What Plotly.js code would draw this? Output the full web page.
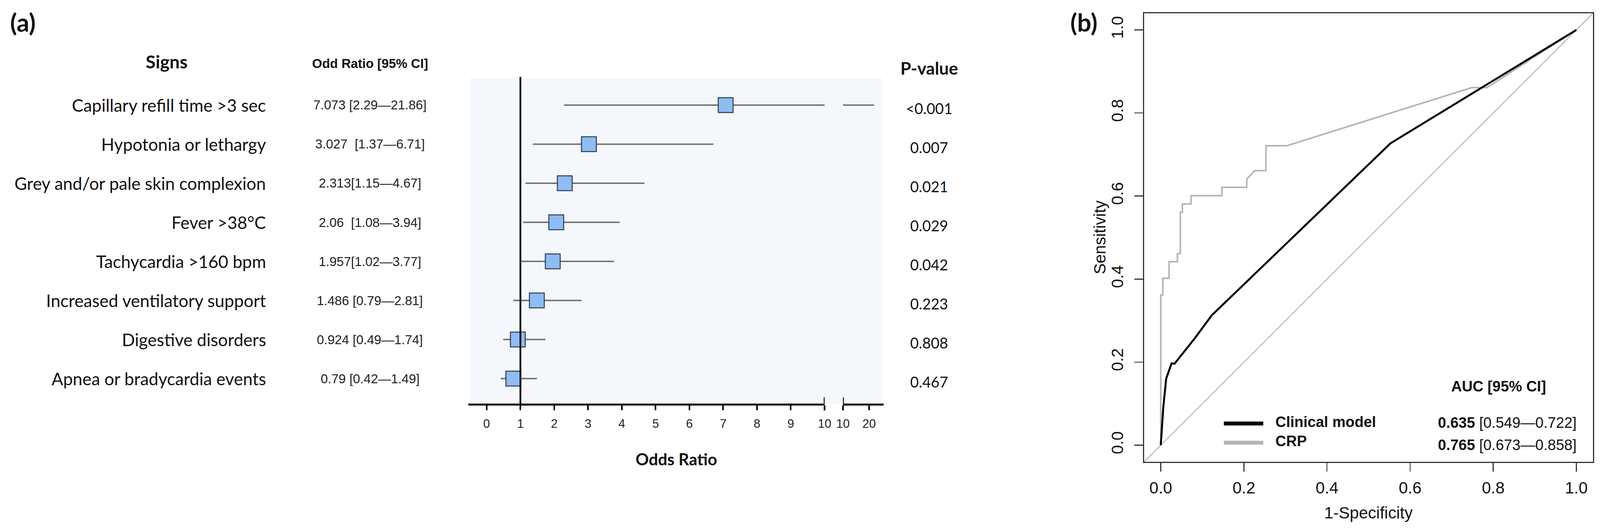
<!DOCTYPE html>
<html>
<head>
<meta charset="utf-8">
<script src="https://cdn.plot.ly/plotly-3.0.1.min.js"></script>
<style>html,body{margin:0;padding:0;background:#fff;} #chart{width:4102px;height:1354px;}</style>
</head>
<body>
<div id="chart"></div>
<script>
// ---------- Panel (a) data ----------
const signs = ["Capillary refill time >3 sec","Hypotonia or lethargy","Grey and/or pale skin complexion","Fever >38°C","Tachycardia >160 bpm","Increased ventilatory support","Digestive disorders","Apnea or bradycardia events"];
const oddsRatio = [7.073, 3.027, 2.313, 2.06, 1.957, 1.486, 0.924, 0.79];
const ciLow = [2.29, 1.37, 1.15, 1.08, 1.02, 0.79, 0.49, 0.42];
const ciHigh = [21.86, 6.71, 4.67, 3.94, 3.77, 2.81, 1.74, 1.49];
const orLabels = ["7.073 [2.29—21.86]","3.027&nbsp;&nbsp;[1.37—6.71]","2.313[1.15—4.67]","2.06&nbsp;&nbsp;[1.08—3.94]","1.957[1.02—3.77]","1.486 [0.79—2.81]","0.924 [0.49—1.74]","0.79 [0.42—1.49]"];
const pValues = ["<0.001","0.007","0.021","0.029","0.042","0.223","0.808","0.467"];
const axisTicks1 = [0,1,2,3,4,5,6,7,8,9,10];
const axisTicks2 = [10,20];
const breakAt = 10;

// ---------- Panel (b) data ----------
const clinFpr = [0, 0.006, 0.013, 0.026, 0.033, 0.08, 0.123, 0.553, 1];
const clinTpr = [0, 0.09, 0.16, 0.197, 0.196, 0.255, 0.313, 0.727, 1];
const crpFpr = [0, 0, 0.005, 0.005, 0.02, 0.02, 0.040, 0.040, 0.047, 0.047, 0.052, 0.052, 0.073, 0.073, 0.147, 0.147, 0.207, 0.207, 0.226, 0.253, 0.253, 0.303, 0.748, 0.785, 1];
const crpTpr = [0, 0.362, 0.362, 0.402, 0.402, 0.442, 0.442, 0.461, 0.461, 0.561, 0.561, 0.581, 0.581, 0.601, 0.601, 0.621, 0.621, 0.641, 0.661, 0.661, 0.721, 0.721, 0.861, 0.861, 1];
const rocTicks = [0, 0.2, 0.4, 0.6, 0.8, 1.0];
const aucRows = [
  {name: "Clinical model", auc: "0.635", ci: "[0.549—0.722]"},
  {name: "CRP", auc: "0.765", ci: "[0.673—0.858]"}
];

// ---------- helpers ----------
const W = 4102, H = 1354;
const px = v => v / W;
const py = v => (H - v) / H;
const rows = signs.map((s, i) => i);

const fSans = "Lato, 'Open Sans', sans-serif";
const fArial = "'Liberation Sans', Arial, sans-serif";

// CI segments: first axis (clipped at break), second axis (beyond break)
const seg1x = [], seg1y = [], seg2x = [], seg2y = [];
rows.forEach(i => {
  seg1x.push(ciLow[i], Math.min(ciHigh[i], breakAt), null);
  seg1y.push(i, i, null);
  if (ciHigh[i] > breakAt) {
    seg2x.push(breakAt, ciHigh[i], null);
    seg2y.push(i, i, null);
  }
});

const traces = [
  {x: seg1x, y: seg1y, xaxis: 'x', yaxis: 'y', mode: 'lines', line: {color: '#6a6a6a', width: 3.5}, hoverinfo: 'skip'},
  {x: seg2x, y: seg2y, xaxis: 'x2', yaxis: 'y', mode: 'lines', line: {color: '#6a6a6a', width: 3.5}, hoverinfo: 'skip'},
  {x: oddsRatio, y: rows, xaxis: 'x', yaxis: 'y', mode: 'markers',
   marker: {symbol: 'square', size: 38, color: '#8dbdf4', line: {color: '#2f3a46', width: 2.5}}},
  // ROC
  {x: [-0.04, 1.04], y: [-0.04, 1.04], xaxis: 'x3', yaxis: 'y3', mode: 'lines', line: {color: '#a8a8a8', width: 2}},
  {x: crpFpr, y: crpTpr, xaxis: 'x3', yaxis: 'y3', mode: 'lines', line: {color: '#b4b4b4', width: 4}},
  {x: clinFpr, y: clinTpr, xaxis: 'x3', yaxis: 'y3', mode: 'lines', line: {color: '#000000', width: 5}}
];

const ann = [];
const shapes = [];
function note(o) { ann.push(Object.assign({showarrow: false, xanchor: 'center', yanchor: 'middle', xref: 'paper', yref: 'paper'}, o)); }

// forest background & reference line
const yTop = py(197), yBot = py(1033);
shapes.push({type: 'rect', xref: 'paper', yref: 'paper', x0: px(1203), x1: px(2258), y0: yBot, y1: py(200), fillcolor: '#f4f8fd', line: {width: 0}, layer: 'below'});
shapes.push({type: 'line', xref: 'x', yref: 'paper', x0: 1, x1: 1, y0: yBot, y1: yTop, line: {color: '#000', width: 4.5}});
// break ticks
shapes.push({type: 'line', xref: 'x', yref: 'paper', x0: breakAt, x1: breakAt, y0: py(1051), y1: py(1017), line: {color: '#000', width: 4.5}});
shapes.push({type: 'line', xref: 'x2', yref: 'paper', x0: breakAt, x1: breakAt, y0: py(1051), y1: py(1017), line: {color: '#000', width: 4.5}});

// row texts
rows.forEach(i => {
  note({yref: 'y', x: px(683), y: i, xanchor: 'right', text: signs[i], font: {family: fSans, size: 44, color: '#111'}});
  note({yref: 'y', x: px(947), y: i, text: orLabels[i], font: {family: fArial, size: 33, color: '#222'}});
  note({yref: 'y', x: px(2378), y: i, yshift: -8, text: pValues[i], font: {family: fSans, size: 38, color: '#111'}});
});
// headers
note({x: px(426), y: py(157), text: '<b>Signs</b>', font: {family: fSans, size: 46, color: '#111'}});
note({x: px(947), y: py(163), text: '<b>Odd Ratio [95% CI]</b>', font: {family: fArial, size: 33, color: '#111'}});
note({x: px(2378), y: py(174), text: '<b>P-value</b>', font: {family: fSans, size: 44, color: '#111'}});
note({x: px(1731), y: py(1175), text: '<b>Odds Ratio</b>', font: {family: fSans, size: 42, color: '#111'}});
note({x: px(58), y: py(56), text: '<b>(a)</b>', font: {family: fSans, size: 64, color: '#111'}});
note({x: px(2775), y: py(56), text: '<b>(b)</b>', font: {family: fSans, size: 64, color: '#111'}});

// panel b texts
note({x: px(3503), y: py(1312), text: '1-Specificity', font: {family: fArial, size: 42, color: '#111'}});
note({x: px(2815), y: py(608), text: 'Sensitivity', textangle: -90, font: {family: fArial, size: 42, color: '#111'}});
note({x: px(3836), y: py(989), text: '<b>AUC [95% CI]</b>', font: {family: fArial, size: 38, color: '#111'}});
const legY = [1084, 1133];
const legCol = ['#000000', '#b4b4b4'];
aucRows.forEach((r, k) => {
  shapes.push({type: 'line', xref: 'paper', yref: 'paper', x0: px(3133), x1: px(3234), y0: py(legY[k]), y1: py(legY[k]), line: {color: legCol[k], width: 10}});
  note({x: px(3263), y: py(legY[k] - 4), xanchor: 'left', text: '<b>' + r.name + '</b>', font: {family: fArial, size: 38, color: '#111'}});
  note({x: px(4038), y: py(legY[k] - 2 + k * 8), xanchor: 'right', text: '<b>' + r.auc + '</b> ' + r.ci, font: {family: fArial, size: 38, color: '#111'}});
});

const forestAxis = {
  showline: true, linecolor: '#000', linewidth: 5, ticks: 'outside', ticklen: 12, tickwidth: 4, tickcolor: '#000',
  showgrid: false, zeroline: false, tickfont: {family: fArial, size: 31, color: '#222'}, anchor: 'y', fixedrange: true
};
const rocAxis = {
  showline: true, mirror: true, linecolor: '#333', linewidth: 3, ticks: 'outside', ticklen: 22, tickwidth: 2.5, tickcolor: '#333',
  showgrid: false, zeroline: false, range: [-0.04, 1.04], tickvals: rocTicks, ticktext: rocTicks.map(v => v.toFixed(1)),
  tickfont: {family: fArial, size: 42, color: '#111'}
};

const layout = {
  width: W, height: H, margin: {l: 0, r: 0, t: 0, b: 0}, paper_bgcolor: '#fff', plot_bgcolor: 'rgba(0,0,0,0)',
  showlegend: false,
  xaxis: Object.assign({}, forestAxis, {domain: [px(1199), px(2111)], range: [-0.54, 10], tickvals: axisTicks1, ticklabelstandoff: 8}),
  xaxis2: Object.assign({}, forestAxis, {domain: [px(2158), px(2262)], range: [10, 25.5], tickvals: axisTicks2, ticklabelstandoff: 8}),
  yaxis: {domain: [yBot, yTop], range: [7.64, -0.72], visible: false, anchor: 'x', fixedrange: true},
  xaxis3: Object.assign({}, rocAxis, {domain: [px(2929), px(4078)], anchor: 'y3', ticklabelstandoff: 6}),
  yaxis3: Object.assign({}, rocAxis, {domain: [py(1182), py(34)], anchor: 'x3', tickangle: -90, ticklabelstandoff: 12}),
  shapes: shapes,
  annotations: ann
};

Plotly.newPlot('chart', traces, layout, {staticPlot: true, displayModeBar: false});
</script>
</body>
</html>
